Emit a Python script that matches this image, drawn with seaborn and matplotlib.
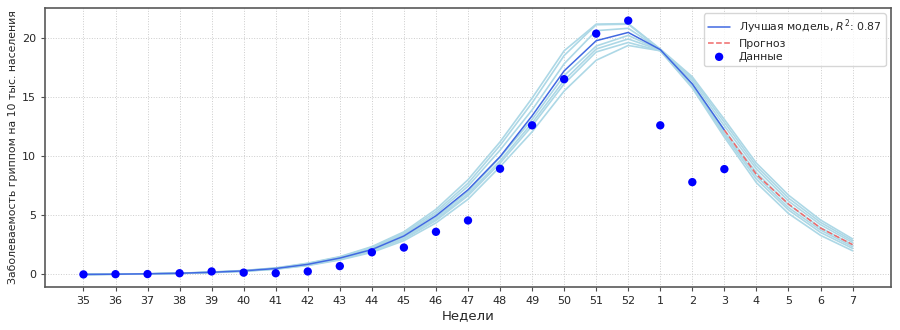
import numpy as np
import pandas as pd
import matplotlib
matplotlib.use("Agg")
import matplotlib.pyplot as plt
import seaborn as sns

weeks = ["35", "36", "37", "38", "39", "40", "41", "42", "43", "44", "45", "46", "47",
         "48", "49", "50", "51", "52", "1", "2", "3", "4", "5", "6", "7"]

# observed data (weeks 35 .. 3)
observed = [0.0, 0.02, 0.03, 0.1, 0.25, 0.15, 0.1, 0.25, 0.7, 1.87, 2.27, 3.6, 4.56,
            8.93, 12.6, 16.5, 20.35, 21.45, 12.6, 7.8, 8.9]

# best model over the data period (weeks 35 .. 3)
best_model = [0.0, 0.02, 0.05, 0.1, 0.18, 0.3, 0.5, 0.85, 1.38, 2.1, 3.25, 4.95, 7.15,
              9.95, 13.4, 17.2, 19.75, 20.45, 19.0, 16.1, 12.2]

# forecast (weeks 3 .. 7)
forecast = [12.2, 8.45, 5.95, 3.92, 2.52]

# ensemble of candidate models (weeks 35 .. 7)
ens_1 = [0.0, 0.02, 0.05, 0.1, 0.2, 0.33, 0.55, 0.95, 1.5, 2.35, 3.6, 5.5, 8.0, 11.2,
         14.9, 18.9, 21.15, 21.2, 19.05, 16.7, 13.1, 9.4, 6.7, 4.6, 3.0]
ens_2 = [0.0, 0.02, 0.05, 0.1, 0.19, 0.32, 0.53, 0.92, 1.47, 2.28, 3.5, 5.3, 7.7, 10.9,
         14.5, 18.5, 21.1, 21.15, 19.0, 16.55, 12.85, 9.15, 6.45, 4.4, 2.85]
ens_3 = [0.0, 0.02, 0.05, 0.1, 0.18, 0.31, 0.52, 0.88, 1.42, 2.2, 3.38, 5.12, 7.45, 10.5,
         13.9, 17.8, 20.6, 20.8, 19.0, 16.35, 12.55, 8.9, 6.2, 4.2, 2.7]
ens_4 = [0.0, 0.02, 0.04, 0.09, 0.17, 0.29, 0.49, 0.82, 1.33, 2.03, 3.15, 4.8, 7.0, 9.9,
         13.1, 16.8, 19.3, 20.2, 18.95, 16.1, 12.2, 8.6, 5.9, 3.95, 2.5]
ens_5 = [0.0, 0.02, 0.04, 0.09, 0.16, 0.28, 0.47, 0.8, 1.3, 1.98, 3.05, 4.65, 6.8, 9.6,
         12.8, 16.4, 19.05, 19.9, 18.95, 15.95, 11.95, 8.3, 5.65, 3.75, 2.35]
ens_6 = [0.0, 0.02, 0.04, 0.08, 0.16, 0.27, 0.46, 0.78, 1.27, 1.94, 2.98, 4.55, 6.65, 9.4,
         12.55, 16.1, 18.8, 19.6, 18.9, 15.85, 11.8, 8.05, 5.45, 3.55, 2.2]
ens_7 = [0.0, 0.01, 0.04, 0.08, 0.15, 0.26, 0.44, 0.75, 1.22, 1.86, 2.85, 4.35, 6.35, 9.1,
         12.05, 15.5, 18.1, 19.35, 18.9, 15.75, 11.6, 7.75, 5.15, 3.3, 2.0]
ensemble = [ens_1, ens_2, ens_3, ens_4, ens_5, ens_6, ens_7]

sns.set_style("ticks")
plt.rcParams['font.family'] = ['DejaVu Sans']

idx = np.arange(len(weeks))
n_obs = len(observed)
ens_df = pd.DataFrame({
    "x": np.tile(idx, len(ensemble)),
    "y": np.concatenate([np.array(e) for e in ensemble]),
    "run": np.repeat(np.arange(len(ensemble)), len(weeks)),
})
obs_df = pd.DataFrame({"x": idx[:n_obs], "y": observed})
best_df = pd.DataFrame({"x": idx[:n_obs], "y": best_model})
fc_df = pd.DataFrame({"x": idx[n_obs - 1:], "y": forecast})

fig = plt.figure(figsize=(9, 3.3), dpi=100)
ax = fig.add_axes([0.05, 0.13, 0.94, 0.846])

sns.lineplot(data=ens_df, x="x", y="y", units="run", estimator=None, color="lightblue",
             linewidth=1.2, ax=ax, legend=False, zorder=2)
sns.lineplot(data=best_df, x="x", y="y", color="royalblue", linewidth=1.1, ax=ax,
             label="Лучшая модель, $R^2$: 0.87", zorder=3)
sns.lineplot(data=fc_df, x="x", y="y", color="#f06a6a", linewidth=1.1, linestyle="--",
             ax=ax, label="Прогноз", zorder=3)
sns.scatterplot(data=obs_df, x="x", y="y", color="blue", s=36, edgecolor="none", ax=ax,
                label="Данные", zorder=4)

ax.set_xticks(idx)
ax.set_xticklabels(weeks)
ax.set_yticks([0, 5, 10, 15, 20])
ax.tick_params(labelsize=8, length=3, width=0.8, color="0.3")
ax.grid(True, linestyle=":", linewidth=0.7, color="0.8")
for s in ax.spines.values():
    s.set_visible(True)
    s.set_color("0.35")
    s.set_linewidth(1.2)
ax.set_xlabel("Недели", fontsize=9.5, labelpad=2)
ax.set_ylabel("Заболеваемость гриппом на 10 тыс. населения", fontsize=7.8, labelpad=3)
ax.set_xlim(-1.2, 25.2)
ax.margins(y=0.05)

leg = ax.legend(loc="upper right", fontsize=7.8, frameon=True, fancybox=True,
                borderpad=0.4, labelspacing=0.25)
leg.get_frame().set_edgecolor("0.8")

fig.savefig("out.png", dpi=100)
